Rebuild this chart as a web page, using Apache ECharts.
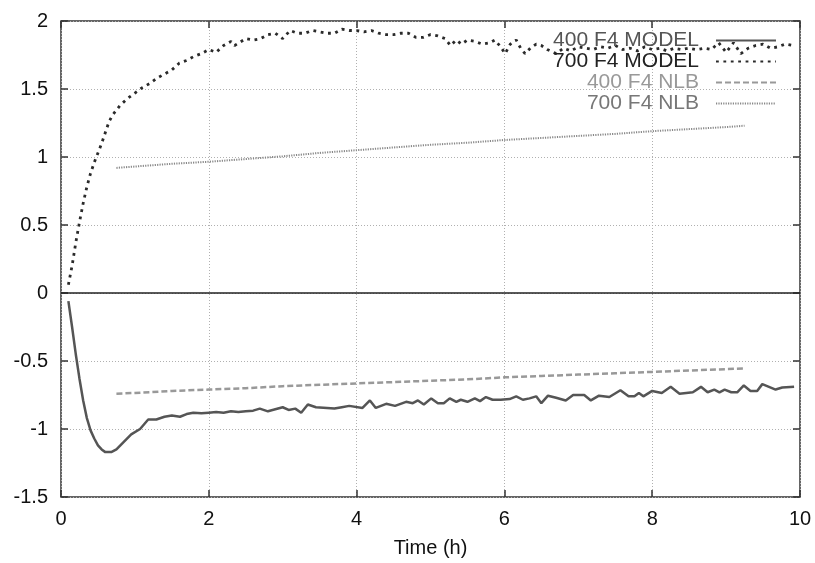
<!DOCTYPE html>
<html><head><meta charset="utf-8">
<script src="https://cdn.jsdelivr.net/npm/echarts@6/dist/echarts.min.js"></script>
<style>html,body{margin:0;padding:0;background:#fff}#c{width:815px;height:563px}</style>
</head><body><div id="c"></div>
<script>
const seriesNames = ['400 F4 MODEL', '700 F4 MODEL', '400 F4 NLB', '700 F4 NLB'];
const xAxisName = 'Time (h)';

const model400 = [[0.1,-0.06],[0.15,-0.25],[0.2,-0.45],[0.25,-0.63],[0.3,-0.79],[0.35,-0.92],[0.4,-1.01],[0.45,-1.07],[0.5,-1.12],[0.55,-1.15],[0.6,-1.17],[0.68,-1.17],[0.75,-1.15],[0.84,-1.10],[0.95,-1.04],[1.07,-1.0],[1.18,-0.93],[1.29,-0.93],[1.4,-0.91],[1.5,-0.9],[1.61,-0.91],[1.7,-0.89],[1.79,-0.88],[1.9,-0.885],[2.0,-0.88],[2.1,-0.875],[2.2,-0.88],[2.3,-0.87],[2.4,-0.875],[2.5,-0.87],[2.6,-0.865],[2.69,-0.85],[2.8,-0.87],[2.9,-0.855],[3.0,-0.84],[3.08,-0.86],[3.17,-0.85],[3.25,-0.88],[3.34,-0.82],[3.45,-0.84],[3.6,-0.845],[3.7,-0.85],[3.8,-0.84],[3.9,-0.83],[4.08,-0.845],[4.18,-0.79],[4.26,-0.845],[4.4,-0.815],[4.52,-0.83],[4.67,-0.8],[4.76,-0.81],[4.83,-0.79],[4.91,-0.82],[5.01,-0.775],[5.1,-0.81],[5.18,-0.81],[5.26,-0.775],[5.35,-0.8],[5.41,-0.785],[5.5,-0.8],[5.6,-0.775],[5.67,-0.795],[5.75,-0.765],[5.84,-0.785],[5.95,-0.785],[6.07,-0.78],[6.16,-0.76],[6.25,-0.785],[6.34,-0.775],[6.43,-0.76],[6.5,-0.81],[6.59,-0.755],[6.7,-0.77],[6.83,-0.79],[6.93,-0.75],[7.08,-0.75],[7.17,-0.79],[7.28,-0.755],[7.42,-0.765],[7.57,-0.715],[7.68,-0.76],[7.76,-0.76],[7.82,-0.735],[7.88,-0.76],[8.0,-0.72],[8.13,-0.735],[8.25,-0.69],[8.37,-0.74],[8.55,-0.73],[8.66,-0.69],[8.75,-0.73],[8.84,-0.71],[8.91,-0.73],[8.98,-0.71],[9.07,-0.73],[9.15,-0.73],[9.24,-0.68],[9.33,-0.72],[9.42,-0.72],[9.49,-0.67],[9.58,-0.69],[9.67,-0.71],[9.76,-0.695],[9.92,-0.69]];

const model700 = [[0.1,0.06],[0.15,0.2],[0.2,0.37],[0.25,0.52],[0.3,0.66],[0.35,0.78],[0.4,0.88],[0.45,0.96],[0.5,1.03],[0.55,1.1],[0.6,1.18],[0.65,1.26],[0.7,1.31],[0.8,1.38],[0.9,1.43],[1.0,1.47],[1.1,1.51],[1.2,1.54],[1.3,1.58],[1.4,1.61],[1.5,1.64],[1.6,1.69],[1.7,1.71],[1.8,1.74],[1.9,1.76],[2.0,1.79],[2.1,1.77],[2.2,1.82],[2.3,1.85],[2.35,1.82],[2.5,1.87],[2.6,1.86],[2.7,1.87],[2.8,1.9],[2.9,1.91],[3.0,1.87],[3.1,1.93],[3.2,1.91],[3.3,1.91],[3.4,1.93],[3.5,1.92],[3.6,1.91],[3.7,1.91],[3.8,1.94],[3.9,1.93],[4.0,1.93],[4.1,1.92],[4.2,1.93],[4.3,1.91],[4.4,1.9],[4.5,1.9],[4.6,1.91],[4.7,1.91],[4.8,1.88],[4.9,1.88],[5.0,1.9],[5.1,1.89],[5.2,1.87],[5.27,1.82],[5.35,1.86],[5.42,1.83],[5.5,1.86],[5.6,1.85],[5.7,1.83],[5.8,1.84],[5.87,1.86],[5.95,1.81],[6.01,1.76],[6.08,1.83],[6.16,1.86],[6.22,1.8],[6.28,1.76],[6.35,1.8],[6.43,1.83],[6.5,1.82],[6.58,1.79],[6.7,1.76],[6.8,1.8],[6.9,1.78],[7.0,1.81],[7.1,1.8],[7.2,1.79],[7.3,1.81],[7.4,1.8],[7.5,1.82],[7.6,1.79],[7.7,1.8],[7.8,1.78],[7.9,1.81],[8.0,1.79],[8.1,1.8],[8.2,1.78],[8.3,1.8],[8.4,1.79],[8.5,1.8],[8.6,1.79],[8.7,1.8],[8.8,1.79],[8.9,1.84],[9.0,1.77],[9.1,1.84],[9.2,1.76],[9.3,1.8],[9.4,1.82],[9.5,1.83],[9.6,1.8],[9.7,1.81],[9.8,1.83],[9.9,1.82]];

const nlb400 = [[0.75,-0.74],[1.0,-0.735],[1.5,-0.72],[2.0,-0.71],[2.5,-0.70],[3.0,-0.685],[3.5,-0.675],[4.0,-0.665],[4.5,-0.655],[5.0,-0.645],[5.5,-0.635],[6.0,-0.62],[6.5,-0.61],[7.0,-0.60],[7.5,-0.59],[8.0,-0.58],[8.5,-0.57],[9.0,-0.56],[9.25,-0.555]];

const nlb700 = [[0.75,0.92],[1.0,0.93],[1.5,0.95],[2.0,0.965],[2.5,0.985],[3.0,1.005],[3.5,1.03],[4.0,1.05],[4.5,1.07],[5.0,1.09],[5.5,1.105],[6.0,1.125],[6.5,1.14],[7.0,1.155],[7.5,1.17],[8.0,1.19],[8.5,1.205],[9.0,1.22],[9.25,1.23]];

const FONT = 'Liberation Sans, Arial, sans-serif';
const chart = echarts.init(document.getElementById('c'), null, {renderer: 'canvas'});
const gridLine = {show: true, lineStyle: {color: '#b0b0b0', width: 1, type: [1, 2]}};
const tick = {show: true, inside: true, length: 7, lineStyle: {color: '#333', width: 1.5}};
const option = {
  backgroundColor: '#fff',
  animation: false,
  grid: {left: 61, right: 15, top: 21, bottom: 66, show: true, borderColor: '#333', borderWidth: 1.5, backgroundColor: 'transparent'},
  legend: {
    orient: 'vertical', right: 33, top: 25, align: 'right',
    itemWidth: 60, itemHeight: 14, itemGap: 0,
    selectedMode: false,
    itemStyle: {opacity: 0},
    textStyle: {fontFamily: FONT, fontSize: 21, lineHeight: 20, padding: [0, 12, 0, 0]},
    data: [
      {name: seriesNames[0], textStyle: {color: '#555'}},
      {name: seriesNames[1], textStyle: {color: '#222'}},
      {name: seriesNames[2], textStyle: {color: '#999'}},
      {name: seriesNames[3], textStyle: {color: '#777'}}
    ]
  },
  xAxis: [{
    type: 'value', min: 0, max: 10, interval: 2, position: 'bottom',
    name: xAxisName, nameLocation: 'middle', nameGap: 41,
    nameTextStyle: {fontFamily: FONT, fontSize: 20, color: '#111'},
    axisLine: {show: false, onZero: false},
    axisTick: tick,
    axisLabel: {fontFamily: FONT, fontSize: 20, color: '#111', margin: 12},
    splitLine: gridLine
  }, {
    type: 'value', min: 0, max: 10, interval: 2, position: 'top',
    axisLine: {show: false, onZero: false},
    axisTick: tick,
    axisLabel: {show: false}, splitLine: {show: false}
  }],
  yAxis: [{
    type: 'value', min: -1.5, max: 2, interval: 0.5, position: 'left',
    axisLine: {show: false, onZero: false},
    axisTick: tick,
    axisLabel: {fontFamily: FONT, fontSize: 20, color: '#111', margin: 13},
    splitLine: gridLine
  }, {
    type: 'value', min: -1.5, max: 2, interval: 0.5, position: 'right',
    axisLine: {show: false, onZero: false},
    axisTick: tick,
    axisLabel: {show: false}, splitLine: {show: false}
  }],
  series: [
    {name: seriesNames[0], type: 'line', data: model400, symbol: 'none', color: '#555',
     lineStyle: {color: '#555', width: 2.5},
     markLine: {silent: true, symbol: 'none', label: {show: false},
       lineStyle: {color: '#222', width: 1.5, type: 'solid'}, data: [{yAxis: 0}]}},
    {name: seriesNames[1], type: 'line', data: model700, symbol: 'none', color: '#2a2a2a',
     lineStyle: {color: '#2a2a2a', width: 2.8, type: [2.8, 4.6]}},
    {name: seriesNames[2], type: 'line', data: nlb400, symbol: 'none', color: '#999',
     lineStyle: {color: '#999', width: 2.5, type: [6, 3]}},
    {name: seriesNames[3], type: 'line', data: nlb700, symbol: 'none', color: '#888',
     lineStyle: {color: '#888', width: 2, type: [1.2, 1.2]}}
  ]
};
chart.setOption(option);
</script></body></html>
